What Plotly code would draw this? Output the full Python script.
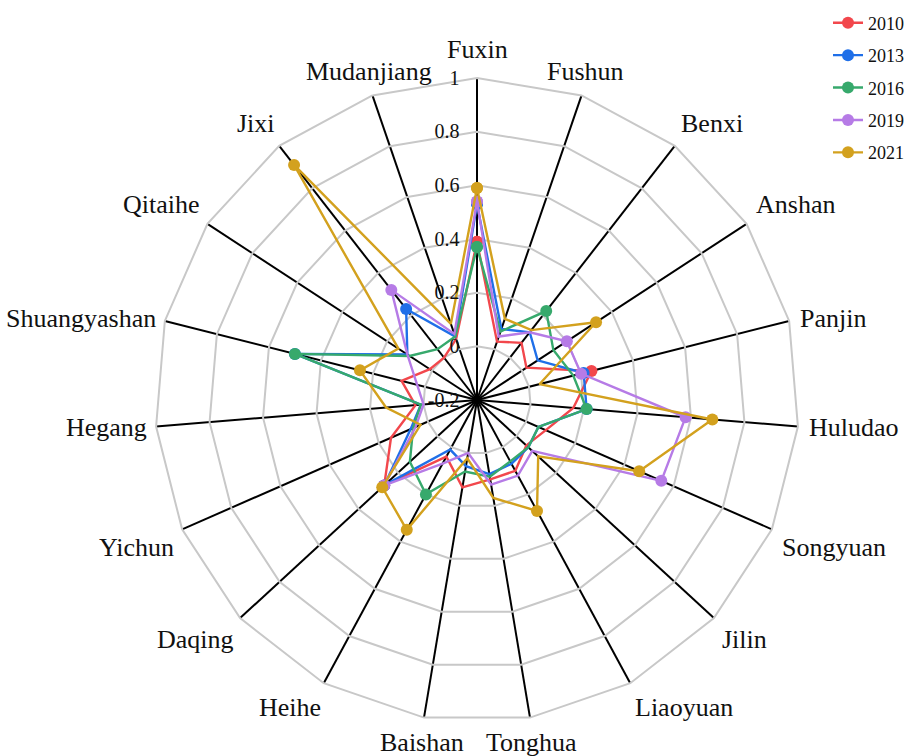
import math
import plotly.graph_objects as go

# Cities around the radar, clockwise from the top
cities = ["Fuxin", "Fushun", "Benxi", "Anshan", "Panjin", "Huludao", "Songyuan",
          "Jilin", "Liaoyuan", "Tonghua", "Baishan", "Heihe", "Daqing", "Yichun",
          "Hegang", "Shuangyashan", "Qitaihe", "Jixi", "Mudanjiang"]

years = ["2010", "2013", "2016", "2019", "2021"]

v2010 = [0.39, 0.03, 0.07, 0.02, 0.24, 0.16, 0.08, 0.05, 0.10, 0.10,
         0.13, 0.04, 0.27, 0.15, 0.03, 0.09, 0.01, 0.00, 0.04]
v2013 = [0.53, 0.08, 0.12, 0.07, 0.21, 0.21, 0.05, 0.06, 0.07, 0.08,
         0.05, 0.01, 0.27, 0.07, 0.01, 0.50, 0.11, 0.23, 0.05]
v2016 = [0.37, 0.07, 0.22, 0.14, 0.17, 0.21, 0.05, 0.06, 0.06, 0.09,
         0.07, 0.20, 0.14, 0.06, 0.01, 0.50, 0.10, 0.04, 0.05]
v2019 = [0.54, 0.05, 0.12, 0.20, 0.20, 0.58, 0.55, 0.08, 0.12, 0.12,
         0.00, 0.07, 0.27, 0.05, 0.00, 0.03, 0.11, 0.32, 0.06]
v2021 = [0.59, 0.12, 0.13, 0.33, 0.04, 0.68, 0.46, 0.11, 0.27, 0.17,
         0.02, 0.35, 0.28, 0.03, 0.14, 0.25, 0.15, 0.91, 0.10]

series = [v2010, v2013, v2016, v2019, v2021]
colors = ["#F2474C", "#1F6FE8", "#37A96C", "#B67BE6", "#D3A11E"]

radial_ticks = [-0.2, 0, 0.2, 0.4, 0.6, 0.8, 1]
radial_labels = ["-0.2", "0", "0.2", "0.4", "0.6", "0.8", "1"]

serif = "Liberation Serif, Times New Roman, serif"

W, H = 909, 756
dom_x = [155 / W, 799 / W]
dom_y = [34 / H, 678 / H]

fig = go.Figure()
for name, vals, col in zip(years, series, colors):
    fig.add_trace(go.Scatterpolar(
        r=vals + vals[:1],
        theta=cities + cities[:1],
        mode="lines+markers",
        name=name,
        legendgroup=name,
        line=dict(color=col, width=2.4),
        marker=dict(color=col, size=12),
    ))

# City names sit just outside the outer polygon, anchored away from the centre
cx = (dom_x[0] + dom_x[1]) / 2 * W
cy = (1 - (dom_y[0] + dom_y[1]) / 2) * H
radius = min((dom_x[1] - dom_x[0]) * W, (dom_y[1] - dom_y[0]) * H) / 2
gap = 12
annotations = []
n = len(cities)
for i, city in enumerate(cities):
    ang = 2 * math.pi * i / n
    dx, dy = math.sin(ang), -math.cos(ang)
    px = cx + (radius + gap) * dx
    py = cy + (radius + gap) * dy
    xa = "left" if dx > 0.4 else ("right" if dx < -0.4 else "center")
    ya = "bottom" if dy < -0.5 else ("top" if dy > 0.3 else "middle")
    xs = -3 if xa == "left" else (5 if xa == "right" else 0)
    if ya == "bottom":
        ys = -4 if abs(dx) > 0.1 else 0
    elif ya == "top":
        ys = 3
    else:
        ys = 0
    annotations.append(dict(
        x=px / W, y=1 - py / H, xref="paper", yref="paper",
        text=city, showarrow=False, xanchor=xa, yanchor=ya,
        xshift=xs, yshift=ys,
        font=dict(family=serif, size=26, color="#111111"),
    ))

fig.update_layout(
    width=W, height=H,
    margin=dict(l=0, r=0, t=0, b=0),
    paper_bgcolor="white",
    plot_bgcolor="white",
    font=dict(family=serif, color="#111111"),
    annotations=annotations,
    polar=dict(
        domain=dict(x=dom_x, y=dom_y),
        bgcolor="white",
        gridshape="linear",
        angularaxis=dict(
            direction="clockwise",
            rotation=90,
            showgrid=True,
            gridcolor="#000000",
            gridwidth=2.2,
            showline=True,
            linecolor="#C8C8C8",
            linewidth=2,
            ticks="",
            showticklabels=False,
        ),
        radialaxis=dict(
            range=[-0.2, 1],
            tickvals=radial_ticks,
            ticktext=radial_labels,
            angle=90,
            tickangle=90,
            side="counterclockwise",
            showline=False,
            ticks="outside",
            ticklen=10,
            tickcolor="rgba(0,0,0,0)",
            showgrid=True,
            gridcolor="#C8C8C8",
            gridwidth=2,
            tickfont=dict(family=serif, size=20, color="#111111"),
        ),
    ),
    legend=dict(
        x=1.0, xanchor="right", y=0.994, yanchor="top",
        font=dict(family=serif, size=18, color="#111111"),
        tracegroupgap=6,
        bgcolor="rgba(0,0,0,0)",
    ),
)

fig.write_html("out.html")
